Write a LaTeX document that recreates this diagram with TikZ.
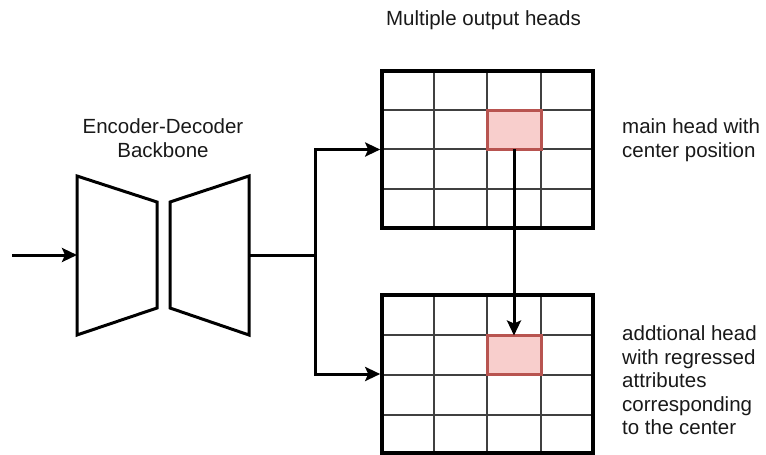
\documentclass[tikz,border=0pt]{standalone}
\usepackage{fontspec}
\setmainfont{Liberation Sans}
\usetikzlibrary{arrows.meta, positioning, calc}

\definecolor{cellfill}{HTML}{F8CECC}
\definecolor{celldraw}{HTML}{B85450}

\tikzset{
    blockline/.style={line width=3pt, line join=miter},
    gridline/.style={line width=1.4pt, color=black!75},
    headbox/.style={draw, line width=3.6pt, minimum width=211pt, minimum height=157pt, inner sep=0pt},
    cellbox/.style={draw=celldraw, fill=cellfill, line width=3pt, minimum width=54pt, minimum height=39pt, inner sep=0pt, outer sep=0pt},
    flow/.style={line width=3pt, -{Stealth[length=15pt, width=14pt, inset=3pt]}},
    txt/.style={font=\fontsize{20.5}{24}\selectfont, inner sep=0pt, text=black!90}
}

\begin{document}
\begin{tikzpicture}[x=1pt, y=-1pt]
    \useasboundingbox (0,0) rectangle (766,455);

    % backbone
    \draw[blockline] (77,176) -- (157,202) -- (157,308) -- (77,335) -- cycle;
    \draw[blockline] (170,202) -- (249,176) -- (249,335) -- (170,308) -- cycle;
    \coordinate (in) at (12,255);
    \coordinate (enc-in) at (77,255);
    \coordinate (dec-out) at (249,255);
    \coordinate (split) at (315,255);
    \node[txt, align=center, anchor=north] (backbone) at (163,118) {Encoder-Decoder\\Backbone};

    % grids
    \foreach \x in {434,487,541} {
        \draw[gridline] (\x,71) -- (\x,228);
        \draw[gridline] (\x,295) -- (\x,453);
    }
    \foreach \y in {110,149,189}
        \draw[gridline] (382,\y) -- (593,\y);
    \foreach \y in {335,375,415}
        \draw[gridline] (382,\y) -- (593,\y);
    \node[headbox] (mainhead) at (487.5,149.5) {};
    \node[headbox, minimum height=158pt] (auxhead) at (487.5,374) {};
    \node[cellbox] (maincell) at (514,129.5) {};
    \node[cellbox] (auxcell) at (514,355) {};

    \node[txt, anchor=base] (title) at (483.5,25) {Multiple output heads};
    \node[txt, align=left, anchor=north west] (maintext) at (622,118.5) {main head with\\center position};
    \node[txt, align=left, anchor=north west, font=\fontsize{20.5}{23.5}\selectfont] (auxtext) at (622,325.5)
        {addtional head\\with regressed\\attributes\\corresponding\\to the center};

    % connectors
    \draw[flow] (in) -- (enc-in);
    \draw[blockline] (dec-out) -- (split);
    \draw[flow] (split) |- (mainhead.west);
    \draw[flow] (split) |- (auxhead.west);
    \draw[flow] (maincell.south) -- (auxcell.north);
\end{tikzpicture}
\end{document}
